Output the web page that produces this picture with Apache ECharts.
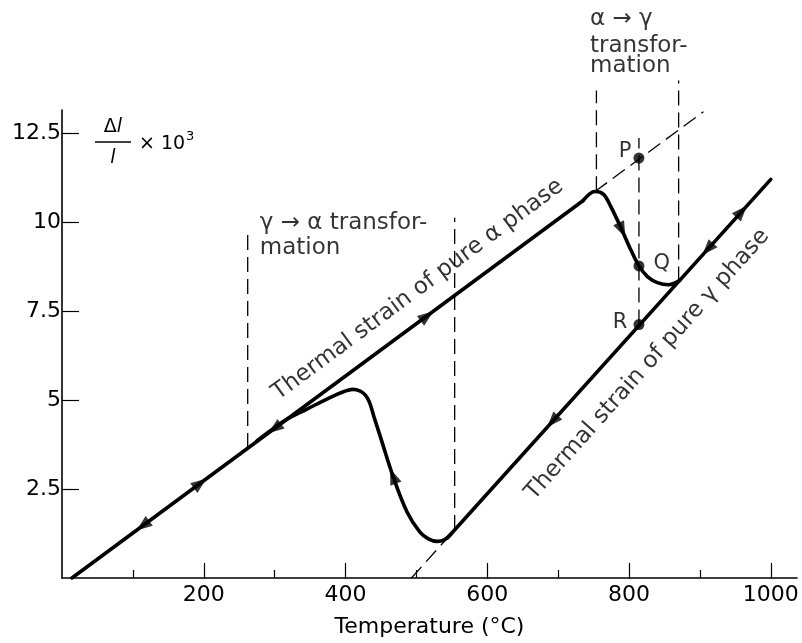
<!DOCTYPE html>
<html>
<head>
<meta charset="utf-8">
<title>Thermal strain vs temperature</title>
<script src="https://cdn.jsdelivr.net/npm/echarts@6/dist/echarts.min.js"></script>
<style>
html, body { margin: 0; padding: 0; background: #fff; }
#chart { width: 802px; height: 643px; }
</style>
</head>
<body>
<div id="chart"></div>
<script>
// [temperature °C, Δl/l × 10³]
const alphaLine = [[14, 0.0], [735, 10.6]];
const heatingBend = [[735, 10.6], [752, 10.86], [764, 10.78], [774, 10.45], [790, 9.78], [803, 9.2], [814, 8.77], [826, 8.47], [840, 8.3], [856, 8.24], [872, 8.37]];
const gammaLine = [[544, 1.13], [1000, 11.2]];
const coolingBend = [[550, 1.26], [540, 1.08], [529, 1.03], [517, 1.1], [505, 1.29], [487, 1.85], [467, 2.86], [449, 3.98], [440, 4.54], [434, 4.93], [428, 5.14], [420, 5.26], [410, 5.3], [398, 5.24], [378, 5.07], [345, 4.74], [317, 4.46], [295, 4.15], [275, 3.85]];
const alphaExtension = [[752, 10.86], [905, 13.1]];
const gammaExtension = [[493, 0], [544, 1.13]];
const guideLines = [
    [[262, 3.65], [262, 9.78]],
    [[554, 1.35], [554, 10.12]],
    [[754, 10.87], [754, 13.7]],
    [[814, 7.12], [814, 12.36]],
    [[870, 8.33], [870, 13.98]]
];
const pointNames = ['P', 'Q', 'R'];
const pointValues = [[814, 11.8], [814, 8.77], [814, 7.12]];
const arrowValues = [[114, 1.47], [195, 2.66], [515, 7.36], [300, 4.2], [467, 2.86], [790, 9.78], [692, 4.4], [911, 9.24], [959, 10.3]];
const arrowAngles = [216.5, 36.5, 36.5, 216.5, 111.5, -65.3, 228, 228, 48];
const xTicks = [200, 400, 600, 800, 1000];
const xMinorTicks = [100, 300, 500, 700, 900];
const yTicks = [2.5, 5, 7.5, 10, 12.5];

const ink = '#000';
const font = 'DejaVu Sans';
const gridBox = { left: 62, top: 110, right: 5, bottom: 64 };

const chart = echarts.init(document.getElementById('chart'));

function solid(data, smooth) {
    return {
        type: 'line', data, smooth: smooth || false, symbol: 'none', silent: true, clip: false, z: 3,
        lineStyle: { color: ink, width: 3.6, cap: 'round', join: 'round' }
    };
}

function dashed(data) {
    return {
        type: 'line', data, symbol: 'none', silent: true, clip: false, z: 2,
        lineStyle: { color: ink, width: 1.3, type: [15, 7] }
    };
}

function note(name, value, label) {
    return { name, value, label: Object.assign({ show: true, position: 'inside', color: ink, fontFamily: font, fontSize: 23 }, label) };
}

const notes = [
    note('Thermal strain of pure α phase', [502, 8.1], { rotate: 36.5 }),
    note('Thermal strain of pure γ phase', [826, 6.0], { rotate: 48.3 }),
    note('γ → α transfor-\nmation', [279, 9.62], { align: 'left', lineHeight: 25 }),
    note('α → γ', [745, 15.7], { align: 'left' }),
    note('transfor-\nmation', [745, 14.66], { align: 'left', lineHeight: 20 })
];

const series = [];
guideLines.forEach(g => series.push(dashed(g)));
series.push(dashed(alphaExtension));
series.push(dashed(gammaExtension));
series.push(solid(alphaLine));
series.push(solid(heatingBend, 0.35));
series.push(solid(gammaLine));
series.push(solid(coolingBend, 0.35));

series.push({
    type: 'scatter', silent: true, z: 4, clip: false,
    symbol: 'triangle', symbolSize: [12, 16],
    symbolRotate: (val, p) => arrowAngles[p.dataIndex] - 90,
    itemStyle: { color: ink },
    data: arrowValues
});

series.push({
    type: 'scatter', silent: true, z: 5, clip: false,
    symbolSize: 11, itemStyle: { color: ink },
    label: { show: true, formatter: '{b}', color: ink, fontFamily: font, fontSize: 21 },
    data: pointNames.map((n, i) => ({
        name: n, value: pointValues[i],
        label: n === 'Q' ? { position: 'right', distance: 9, offset: [0, -2] }
            : { position: 'left', distance: n === 'P' ? 2 : 6, offset: [0, n === 'P' ? -6 : -2] }
    }))
});

series.push({
    type: 'scatter', silent: true, z: 5, clip: false,
    symbolSize: 1, itemStyle: { color: 'rgba(0,0,0,0)' },
    label: { show: true, formatter: '{b}' },
    data: notes
});

const axisStyle = { color: ink, width: 1.6 };

chart.setOption({
    animation: false,
    backgroundColor: '#fff',
    grid: [gridBox, gridBox],
    xAxis: [{
        type: 'value', min: 0, max: 1037,
        axisLine: { lineStyle: axisStyle },
        axisTick: { inside: true, length: 8, customValues: xMinorTicks, lineStyle: { color: ink, width: 1.2 } },
        axisLabel: { customValues: xTicks, formatter: v => String(v), color: ink, fontFamily: font, fontSize: 22, margin: 6 },
        splitLine: { show: false },
        name: 'Temperature (°C)', nameLocation: 'middle', nameGap: 38,
        nameTextStyle: { color: ink, fontFamily: font, fontSize: 22 }
    }, {
        gridIndex: 1, type: 'value', min: 0, max: 1037,
        axisLine: { show: false },
        axisTick: { inside: true, length: 16, customValues: xTicks, lineStyle: { color: ink, width: 1.2 } },
        axisLabel: { show: false },
        splitLine: { show: false }
    }],
    yAxis: [{
        type: 'value', min: 0, max: 13.15,
        axisLine: { show: true, lineStyle: axisStyle },
        axisTick: { show: true, inside: true, length: 17, customValues: yTicks, lineStyle: { color: ink, width: 1.2 } },
        axisLabel: { customValues: yTicks, color: ink, fontFamily: font, fontSize: 22, margin: 1 },
        splitLine: { show: false }
    }, {
        gridIndex: 1, type: 'value', min: 0, max: 13.15, show: false
    }],
    graphic: [
        { type: 'text', x: 113, y: 127, style: { text: '{d|Δ}{i|l}', align: 'center', verticalAlign: 'middle', fill: ink,
            rich: { d: { fontFamily: font, fontSize: 19, fill: ink }, i: { fontFamily: font, fontSize: 19, fontStyle: 'italic', fill: ink } } } },
        { type: 'line', shape: { x1: 95, y1: 142, x2: 131, y2: 142 }, style: { stroke: ink, lineWidth: 1.6 } },
        { type: 'text', x: 113, y: 158, style: { text: 'l', align: 'center', verticalAlign: 'middle', fill: ink, fontFamily: font, fontSize: 19, fontStyle: 'italic' } },
        { type: 'text', x: 139, y: 144, style: { text: '× 10', align: 'left', verticalAlign: 'middle', fill: ink, fontFamily: font, fontSize: 19 } },
        { type: 'text', x: 186, y: 137, style: { text: '3', align: 'left', verticalAlign: 'middle', fill: ink, fontFamily: font, fontSize: 13 } }
    ],
    series
});
</script>
</body>
</html>
